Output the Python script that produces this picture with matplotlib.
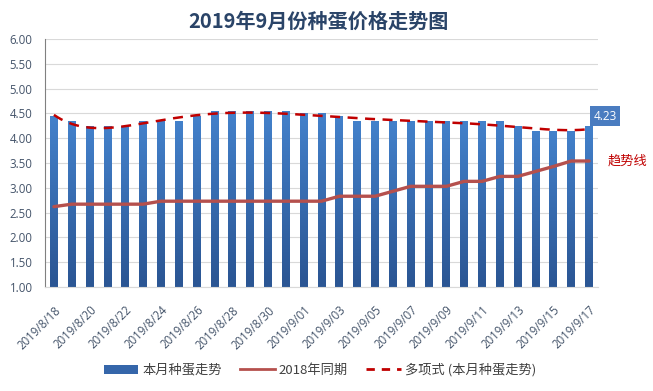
import numpy as np
import matplotlib
matplotlib.use("Agg")
import matplotlib.pyplot as plt
from matplotlib.colors import LinearSegmentedColormap
from matplotlib.patches import Patch
from matplotlib.lines import Line2D
import datetime as dt

plt.rcParams['font.family'] = ['Noto Sans CJK SC', 'DejaVu Sans']

# ---- data ----
title = "2019年9月份种蛋价格走势图"
start = dt.date(2019, 8, 18)
dates = [start + dt.timedelta(days=i) for i in range(31)]
date_labels = [f"{d.year}/{d.month}/{d.day:02d}" for d in dates]

this_month = [4.43, 4.33, 4.23, 4.23, 4.23, 4.33, 4.33, 4.33, 4.43, 4.53,
              4.53, 4.53, 4.53, 4.53, 4.50, 4.50, 4.43, 4.33, 4.33, 4.33,
              4.33, 4.33, 4.33, 4.33, 4.33, 4.33, 4.23, 4.13, 4.13, 4.13,
              4.23]
last_year = [2.62, 2.67, 2.67, 2.67, 2.67, 2.67, 2.73, 2.73, 2.73, 2.73,
             2.73, 2.73, 2.73, 2.73, 2.73, 2.73, 2.83, 2.83, 2.83, 2.93,
             3.03, 3.03, 3.03, 3.13, 3.13, 3.23, 3.23, 3.33, 3.43, 3.54,
             3.54]
series_names = ["本月种蛋走势", "2018年同期", "多项式 (本月种蛋走势)"]
yticks = [1.0, 1.5, 2.0, 2.5, 3.0, 3.5, 4.0, 4.5, 5.0, 5.5, 6.0]
poly_order = 6

# ---- figure ----
W, H = 653, 391
fig = plt.figure(figsize=(W / 100, H / 100), dpi=100)
fig.patch.set_facecolor('white')
ax = fig.add_axes([45 / W, 1 - 287 / H, (598 - 45) / W, (287 - 39) / H])

x = np.arange(len(this_month))
bw = 0.44
cmap = LinearSegmentedColormap.from_list('bar', ['#2B5694', '#4381CB'])
grad = np.linspace(0, 1, 256).reshape(-1, 1)
for xi, v in zip(x, this_month):
    ax.imshow(grad, extent=[xi - bw / 2, xi + bw / 2, 0, v], origin='lower',
              cmap=cmap, aspect='auto', zorder=2, interpolation='bilinear',
              vmin=0.25, vmax=1)

# 2018 line
ax.plot(x, last_year, color='#B5504D', lw=2.4, zorder=3, solid_capstyle='round')

# polynomial trendline
coef = np.polyfit(x + 1, this_month, poly_order)
xs = np.linspace(0, len(x) - 1, 300)
ax.plot(xs, np.polyval(coef, xs + 1), color='#C00000', lw=1.8,
        ls=(0, (4, 3)), zorder=4)

ax.set_xlim(-0.5, len(x) - 0.5)
ax.set_ylim(1.0, 6.0)
ax.set_yticks(yticks)
ax.set_yticklabels([f"{t:.2f}" for t in yticks], fontsize=8.3, color='#44546A',
                   family=['Open Sans', 'DejaVu Sans'])
ax.set_xticks(x[::2])
ax.set_xticklabels(date_labels[::2], rotation=45, ha='right', rotation_mode='anchor',
                   fontsize=8.3, color='#44546A', family=['Open Sans', 'DejaVu Sans'])
ax.tick_params(axis='both', length=0)
ax.tick_params(axis='y', pad=9)
ax.tick_params(axis='x', pad=12)
ax.grid(axis='y', color='#D9D9D9', lw=0.8, zorder=0)
ax.set_axisbelow(True)
for s in ['top', 'right']:
    ax.spines[s].set_visible(False)
ax.spines['left'].set_color('#808080')
ax.spines['left'].set_linewidth(0.8)
ax.spines['bottom'].set_color('#D9D9D9')
ax.spines['bottom'].set_linewidth(0.8)

# title
fig.text(0.488, 1 - 21 / H, title, ha='center', va='center', fontsize=14.5,
         fontweight='bold', color='#2A4468')

# last value label
fig.text(605 / W, 1 - 116 / H, f"{this_month[-1]:.2f}", ha='center', va='center',
         fontsize=8.5, color='white', family=['Open Sans', 'DejaVu Sans'],
         bbox=dict(boxstyle='square,pad=0.3', fc='#4A7CC0', ec='none'))
fig.text(627 / W, 1 - 161 / H, "趋势线", ha='center', va='center', fontsize=9.5,
         color='#C00000')

# legend
handles = [Patch(facecolor='#3566AA', edgecolor='none'),
           Line2D([0], [0], color='#B5504D', lw=2),
           Line2D([0], [0], color='#C00000', lw=2, ls=(0, (3, 2.5)))]
fig.legend(handles, series_names, loc='center', bbox_to_anchor=(0.49, 1 - 370 / H),
           ncol=3, frameon=False, fontsize=9.5, handlelength=2.6, handleheight=0.7,
           columnspacing=1.4, handletextpad=0.3, labelcolor='#404040')

fig.savefig('out.png', dpi=100, facecolor='white')
